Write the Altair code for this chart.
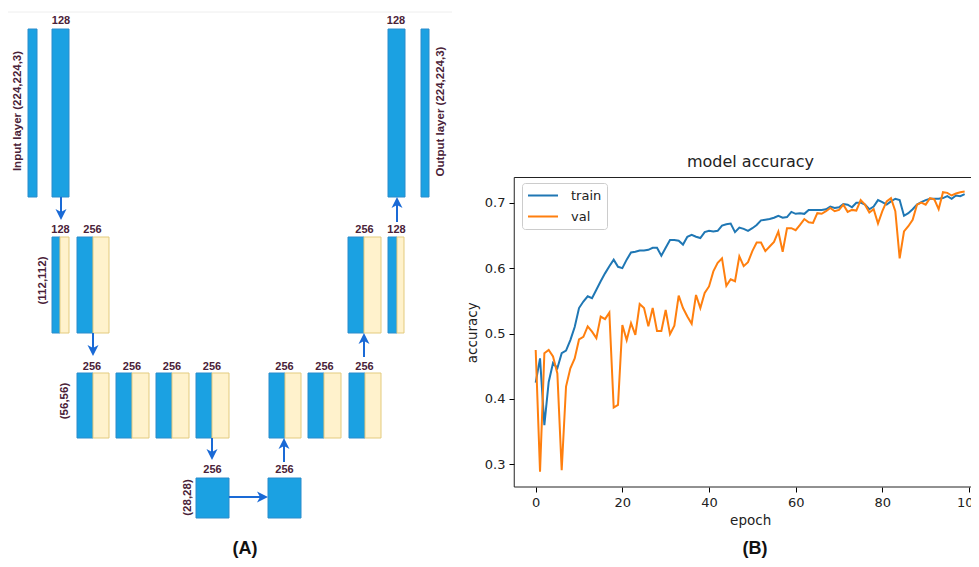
import altair as alt
import pandas as pd

# ---------------- chart (B) data ----------------
epochs = list(range(100))
train_acc = [0.425, 0.462, 0.360, 0.426, 0.455, 0.447, 0.470, 0.474, 0.490, 0.510,
             0.539, 0.549, 0.557, 0.554, 0.567, 0.580, 0.592, 0.603, 0.613, 0.602,
             0.600, 0.613, 0.624, 0.625, 0.627, 0.627, 0.628, 0.631, 0.631, 0.619,
             0.631, 0.643, 0.643, 0.642, 0.636, 0.648, 0.651, 0.648, 0.646, 0.655,
             0.657, 0.656, 0.657, 0.665, 0.667, 0.668, 0.655, 0.662, 0.660, 0.657,
             0.661, 0.666, 0.673, 0.674, 0.675, 0.677, 0.680, 0.677, 0.678, 0.686,
             0.683, 0.684, 0.683, 0.689, 0.689, 0.689, 0.689, 0.690, 0.694, 0.692,
             0.693, 0.698, 0.697, 0.693, 0.700, 0.700, 0.697, 0.690, 0.694, 0.704,
             0.701, 0.697, 0.702, 0.706, 0.704, 0.680, 0.684, 0.690, 0.697, 0.701,
             0.704, 0.706, 0.706, 0.706, 0.707, 0.710, 0.706, 0.711, 0.710, 0.713]
val_acc = [0.475, 0.289, 0.470, 0.475, 0.465, 0.439, 0.291, 0.419, 0.447, 0.462,
           0.491, 0.495, 0.511, 0.503, 0.493, 0.526, 0.522, 0.532, 0.387, 0.391,
           0.513, 0.490, 0.516, 0.498, 0.545, 0.539, 0.511, 0.539, 0.504, 0.504,
           0.536, 0.499, 0.512, 0.558, 0.539, 0.526, 0.515, 0.559, 0.539, 0.562,
           0.572, 0.595, 0.608, 0.615, 0.573, 0.583, 0.580, 0.618, 0.603, 0.609,
           0.626, 0.639, 0.639, 0.626, 0.633, 0.640, 0.656, 0.625, 0.661, 0.661,
           0.658, 0.666, 0.675, 0.670, 0.669, 0.684, 0.683, 0.687, 0.692, 0.687,
           0.689, 0.697, 0.686, 0.689, 0.688, 0.704, 0.697, 0.685, 0.690, 0.668,
           0.687, 0.702, 0.707, 0.687, 0.615, 0.656, 0.664, 0.674, 0.697, 0.700,
           0.697, 0.707, 0.705, 0.690, 0.716, 0.715, 0.711, 0.714, 0.716, 0.717]
series_names = ["train", "val"]
series_colors = ["#1f77b4", "#ff7f0e"]
x_ticks = [0, 20, 40, 60, 80, 100]
y_ticks = [0.3, 0.4, 0.5, 0.6, 0.7]
chart_title = "model accuracy"
x_title = "epoch"
y_title = "accuracy"

# ---------------- diagram (A) text ----------------
level_labels = ["128", "128",
                "128", "256", "256", "128",
                "256", "256", "256", "256", "256", "256", "256",
                "256", "256"]
side_labels = ["Input layer (224,224,3)", "(112,112)", "(56,56)", "(28,28)",
               "Output layer (224,224,3)"]
captions = ["(A)", "(B)"]

# ---------------- layout (page pixels) ----------------
W, H = 963, 551
BLUE, BLUE_EDGE = "#1ba1e2", "#2a8ccc"
CREAM, CREAM_EDGE = "#fff2cc", "#e3cb7f"
ARROW = "#1a6ad6"
TXT = "#4a2238"

# block geometry: (x1, x2, y1, y2, kind)
block_geom = [
    (28, 37, 29, 197, "b"), (52, 69, 29, 197, "b"),
    (388, 405, 29, 197, "b"), (421, 429, 29, 197, "b"),
    (52, 60, 237, 333, "b"), (60, 69, 237, 333, "c"),
    (77, 93, 237, 333, "b"), (93, 109, 237, 333, "c"),
    (348, 364, 237, 333, "b"), (364, 381, 237, 333, "c"),
    (388, 397, 237, 333, "b"), (397, 404, 237, 333, "c"),
    (77, 93, 373, 438, "b"), (93, 109, 373, 438, "c"),
    (116, 132, 373, 438, "b"), (132, 149, 373, 438, "c"),
    (156, 172, 373, 438, "b"), (172, 189, 373, 438, "c"),
    (196, 212, 373, 438, "b"), (212, 229, 373, 438, "c"),
    (269, 285, 373, 438, "b"), (285, 301, 373, 438, "c"),
    (308, 324, 373, 438, "b"), (324, 341, 373, 438, "c"),
    (349, 365, 373, 438, "b"), (365, 381, 373, 438, "c"),
    (196, 229, 478, 518, "b"), (268, 301, 478, 518, "b"),
]
blocks_df = pd.DataFrame({
    "x1": [g[0] for g in block_geom], "x2": [g[1] for g in block_geom],
    "y1": [g[2] for g in block_geom], "y2": [g[3] for g in block_geom],
    "fill": [BLUE if g[4] == "b" else CREAM for g in block_geom],
    "stroke": [BLUE_EDGE if g[4] == "b" else CREAM_EDGE for g in block_geom],
})

label_pos = [(61, 21), (396, 21),
             (60.5, 229.5), (92.5, 229.5), (364.5, 229.5), (396.5, 229.5),
             (92, 366.5), (132, 366.5), (172, 366.5), (212, 366.5),
             (284.5, 366.5), (324.5, 366.5), (364.5, 366.5),
             (212.5, 470), (284.5, 470)]
labels_df = pd.DataFrame({"x": [p[0] for p in label_pos], "y": [p[1] for p in label_pos],
                          "t": level_labels})

side_pos = [(18, 111), (42.5, 280.5), (64.5, 401), (187.5, 497.5), (440.5, 111.5)]
side_df = pd.DataFrame({"x": [p[0] for p in side_pos], "y": [p[1] for p in side_pos],
                        "t": side_labels})

cap_df = pd.DataFrame({"x": [245, 755], "y": [549, 549], "t": captions})
title_df = pd.DataFrame({"x": [750.5], "y": [162], "t": [chart_title]})

# arrows: (x_start, y_start, x_tip, y_tip)
arrow_geom = [(61, 197, 61, 220), (93, 333, 93, 356), (212, 438, 212, 460),
              (229, 497, 268, 497), (284, 462, 284, 438), (364, 357, 364, 333),
              (397, 222, 397, 197)]
HEAD = 11
SHAPES = {"down": "M-1,-1L0,1L1,-1L0,-0.45Z", "up": "M-1,1L0,-1L1,1L0,0.45Z",
          "right": "M-1,-1L1,0L-1,1L-0.45,0Z"}
shaft_rows, head_rows = [], []
for xs_, ys_, xt, yt in arrow_geom:
    if xt > xs_:
        d = "right"; hx, hy = xt - HEAD / 2, yt; ex, ey = xt - HEAD / 2, yt
    elif yt > ys_:
        d = "down"; hx, hy = xt, yt - HEAD / 2; ex, ey = xt, yt - HEAD / 2
    else:
        d = "up"; hx, hy = xt, yt + HEAD / 2; ex, ey = xt, yt + HEAD / 2
    shaft_rows.append({"x1": xs_, "y1": ys_, "x2": ex, "y2": ey})
    head_rows.append({"x": hx, "y": hy, "shape": SHAPES[d]})
shaft_df = pd.DataFrame(shaft_rows)
head_df = pd.DataFrame(head_rows)

frame_line_df = pd.DataFrame({"x1": [5], "x2": [452], "y": [12]})

px = alt.Scale(domain=[8, 8 + W], range=[0, W], nice=False, zero=False)
py = alt.Scale(domain=[8, 8 + H], range=[0, H], nice=False, zero=False)

top_line = alt.Chart(frame_line_df).mark_rule(color="#eeeeee", strokeWidth=1).encode(
    x=alt.X("x1:Q", scale=px, axis=None), x2="x2:Q",
    y=alt.Y("y:Q", scale=py, axis=None))

blocks = alt.Chart(blocks_df).mark_rect(strokeWidth=1).encode(
    x=alt.X("x1:Q", scale=px, axis=None), x2="x2:Q",
    y=alt.Y("y1:Q", scale=py, axis=None), y2="y2:Q",
    fill=alt.Fill("fill:N", scale=None), stroke=alt.Stroke("stroke:N", scale=None))

shafts = alt.Chart(shaft_df).mark_rule(color=ARROW, strokeWidth=2).encode(
    x=alt.X("x1:Q", scale=px, axis=None), x2="x2:Q",
    y=alt.Y("y1:Q", scale=py, axis=None), y2="y2:Q")

heads = alt.Chart(head_df).mark_point(filled=True, opacity=1, fill=ARROW,
                                      strokeWidth=0, size=HEAD * HEAD).encode(
    x=alt.X("x:Q", scale=px, axis=None),
    y=alt.Y("y:Q", scale=py, axis=None),
    shape=alt.Shape("shape:N", scale=None))

lab = alt.Chart(labels_df).mark_text(font="Liberation Sans", fontSize=11,
                                     fontWeight="bold", color=TXT).encode(
    x=alt.X("x:Q", scale=px, axis=None), y=alt.Y("y:Q", scale=py, axis=None), text="t:N")

side = alt.Chart(side_df).mark_text(font="Liberation Sans", fontSize=11.5, angle=270,
                                    fontWeight="bold", color=TXT).encode(
    x=alt.X("x:Q", scale=px, axis=None), y=alt.Y("y:Q", scale=py, axis=None), text="t:N")

caps = alt.Chart(cap_df).mark_text(font="Liberation Sans", fontSize=18,
                                   fontWeight="bold", color="#111111").encode(
    x=alt.X("x:Q", scale=px, axis=None), y=alt.Y("y:Q", scale=py, axis=None), text="t:N")

ttl = alt.Chart(title_df).mark_text(font="DejaVu Sans", fontSize=16, color="#222222").encode(
    x=alt.X("x:Q", scale=px, axis=None), y=alt.Y("y:Q", scale=py, axis=None), text="t:N")

diagram = alt.layer(top_line, blocks, shafts, heads, lab, side, caps, ttl)

# ---------------- line chart (B) ----------------
x_dom = [-4.95, 103.95]
y_dom = [0.2655, 0.7385]
xs = alt.Scale(domain=x_dom, range=[506.25, 978.1], nice=False, zero=False)
ys = alt.Scale(domain=y_dom, range=[479, 169.5], nice=False, zero=False)

long_df = pd.DataFrame({
    "epoch": epochs * 2,
    "acc": train_acc + val_acc,
    "series": [series_names[0]] * len(epochs) + [series_names[1]] * len(epochs),
})

axis_common = dict(grid=False, domain=False, tickColor="#000000", tickSize=5,
                   labelFont="DejaVu Sans", labelFontSize=13, labelColor="#222222",
                   titleFont="DejaVu Sans", titleFontSize=13.5, titleFontWeight="normal",
                   titleColor="#222222", labelPadding=4)

frame = alt.Chart(pd.DataFrame({"k": [0]})).mark_rect(
    fill=None, stroke="#222222", strokeWidth=1).encode(
    x=alt.datum(x_dom[0]), x2=alt.datum(x_dom[1]),
    y=alt.datum(y_dom[0]), y2=alt.datum(y_dom[1]))

lines = alt.Chart(long_df).mark_line(strokeWidth=2).encode(
    x=alt.X("epoch:Q", scale=xs,
            axis=alt.Axis(orient="bottom", offset=-72, values=x_ticks, format="d",
                          title=x_title, titlePadding=4, **axis_common)),
    y=alt.Y("acc:Q", scale=ys,
            axis=alt.Axis(orient="left", offset=-506, values=y_ticks, format=".1f",
                          title=y_title, titlePadding=5, **axis_common)),
    color=alt.Color("series:N",
                    scale=alt.Scale(domain=series_names, range=series_colors),
                    legend=alt.Legend(orient="none", legendX=514, legendY=175, title=None,
                                      symbolType="stroke", symbolSize=900,
                                      symbolStrokeWidth=2, labelFont="DejaVu Sans",
                                      labelFontSize=13, labelColor="#222222",
                                      labelOffset=12, padding=5, rowPadding=6,
                                      clipHeight=15, strokeColor="#cccccc",
                                      fillColor="#ffffff", cornerRadius=3)),
)

linechart = alt.layer(frame, lines)

chart = alt.layer(diagram, linechart).resolve_scale(
    x="independent", y="independent"
).properties(
    width=W, height=H, padding=0,
    autosize=alt.AutoSizeParams(type="none"),
).configure_view(stroke=None)

chart.save("out.html", embed_options={"renderer": "svg", "actions": False})
